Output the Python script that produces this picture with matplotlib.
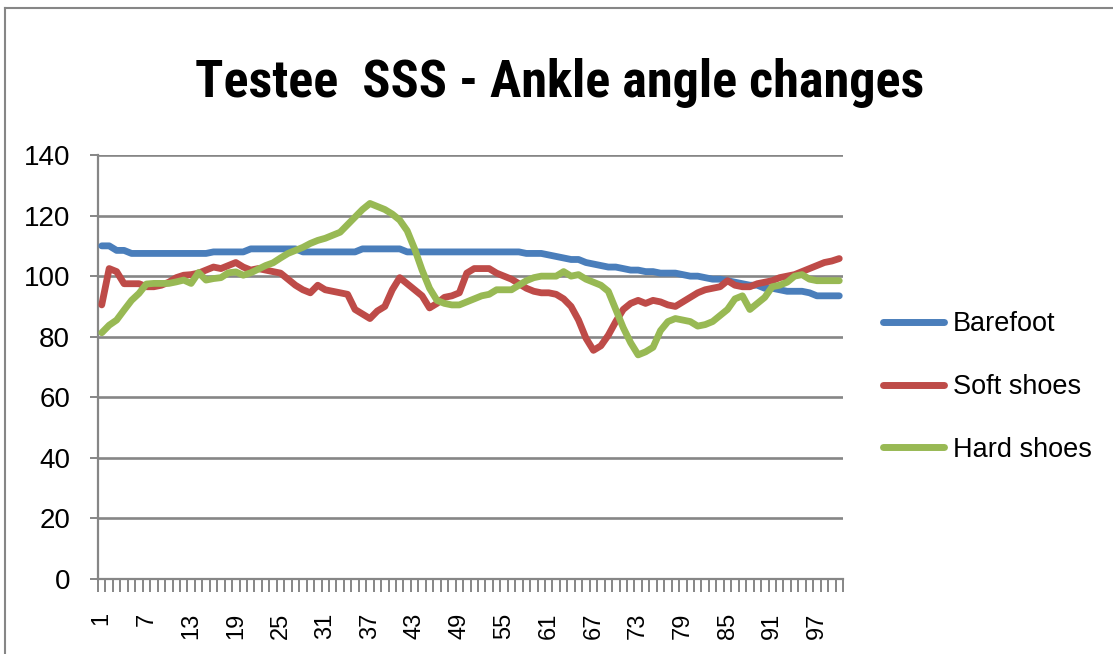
import matplotlib
matplotlib.use("Agg")
import matplotlib.pyplot as plt
from matplotlib.lines import Line2D
from matplotlib import font_manager as fm
import numpy as np

categories = list(range(1, 101))
tick_label_positions = list(range(1, 101, 6))
tick_labels = [str(v) for v in tick_label_positions]
y_ticks = [0, 20, 40, 60, 80, 100, 120, 140]

barefoot = [110, 110, 108.5, 108.5, 107.5, 107.5, 107.5, 107.5, 107.5, 107.5,
            107.5, 107.5, 107.5, 107.5, 107.5, 108, 108, 108, 108, 108,
            109, 109, 109, 109, 109, 109, 109, 108, 108, 108,
            108, 108, 108, 108, 108, 109, 109, 109, 109, 109,
            109, 108, 108, 108, 108, 108, 108, 108, 108, 108,
            108, 108, 108, 108, 108, 108, 108, 107.5, 107.5, 107.5,
            107, 106.5, 106, 105.5, 105.5, 104.5, 104, 103.5, 103, 103,
            102.5, 102, 102, 101.5, 101.5, 101, 101, 101, 100.5, 100,
            100, 99.5, 99, 99, 98.5, 98, 97.5, 97, 97, 96,
            96, 95.5, 95, 95, 95, 94.5, 93.5, 93.5, 93.5, 93.5]

soft_shoes = [90.5, 102.5, 101.5, 97.5, 97.5, 97.5, 96.5, 96.5, 97, 98,
              99.5, 100.3, 100.5, 101, 102, 103, 102.5, 103.5, 104.5, 103,
              102, 102.5, 102, 101.5, 101, 99, 97, 95.5, 94.5, 97,
              95.5, 95, 94.5, 94, 89, 87.5, 86, 88.5, 90, 95.5,
              99.5, 97.5, 95.5, 93.5, 89.5, 91, 93, 93.5, 94.5, 101,
              102.5, 102.5, 102.5, 101, 100, 99, 97.5, 96, 95, 94.5,
              94.5, 94, 92.5, 90, 85.5, 79.5, 75.5, 77, 80.5, 85,
              89, 91, 92, 91, 92, 91.5, 90.5, 90, 91.5, 93,
              94.5, 95.5, 96, 96.5, 98.5, 97, 96.5, 96.5, 97.5, 98,
              98.5, 99.5, 100, 100.5, 101.5, 102.5, 103.5, 104.5, 105, 105.8]

hard_shoes = [81.3, 83.8, 85.5, 88.8, 92, 94.3, 97.4, 97.6, 97.6, 97.6,
              98.1, 98.7, 97.6, 101.2, 98.7, 99.2, 99.5, 101.1, 101.4, 100.3,
              101.1, 102.3, 103.5, 104.4, 106, 107.5, 108.5, 109.5, 110.8, 111.8,
              112.5, 113.5, 114.5, 117, 119.5, 122, 124, 123, 122, 120.5,
              118.5, 115, 109, 102, 96, 92, 91, 90.5, 90.5, 91.5,
              92.5, 93.5, 94, 95.5, 95.5, 95.5, 97, 98.5, 99.5, 100,
              100, 100, 101.5, 100, 100.5, 99, 98, 97, 95, 89,
              83, 78, 74, 75, 76.5, 82, 85, 86, 85.5, 85,
              83.5, 84, 85, 87, 89, 92.5, 93.5, 89, 91, 93,
              96.5, 97, 98, 100, 100.5, 99, 98.5, 98.5, 98.5, 98.5]

series = [("Barefoot", barefoot, "#4A7EBB"),
          ("Soft shoes", soft_shoes, "#BE4B48"),
          ("Hard shoes", hard_shoes, "#98B954")]

# pick a condensed bold face for the title if one is installed
_names = {f.name for f in fm.fontManager.ttflist}
title_family = None
title_stretch = "normal"
for cand in ["Liberation Sans Narrow", "Roboto Condensed", "Open Sans Condensed",
             "Noto Sans Condensed", "DejaVu Sans Condensed", "Noto Sans Display Condensed"]:
    if cand in _names:
        title_family = cand
        break
if title_family is None:
    cond = [f for f in fm.fontManager.ttflist
            if str(f.stretch) in ("condensed", "semi-condensed", "extra-condensed")]
    if cond:
        title_family = cond[0].name
        title_stretch = "condensed"
if title_family is None:
    title_family = "Roboto" if "Roboto" in _names else "Liberation Sans"

W, H = 1113, 654
fig = plt.figure(figsize=(W / 100, H / 100), dpi=100)
fig.patch.set_facecolor("white")

GRAY = "#868686"
FONT = ["Liberation Sans", "DejaVu Sans"]

ax = fig.add_axes([98 / W, 1 - 579 / H, (843 - 98) / W, (579 - 155) / H])
ax.set_facecolor("white")

for name, vals, col in series:
    ax.plot(categories, vals, color=col, lw=4.9, label=name,
            solid_capstyle="round", solid_joinstyle="round", zorder=3)

ax.set_xlim(0.5, 100.5)
ax.set_ylim(0, 140)
ax.set_yticks(y_ticks)
ax.set_yticklabels([str(v) for v in y_ticks], fontfamily=FONT, fontsize=20)
ax.yaxis.grid(True, color=GRAY, lw=1.9, zorder=1)
ax.set_axisbelow(True)

ax.set_xticks(np.arange(0.5, 101, 1.0))
ax.set_xticklabels([])
ax.set_xticks(tick_label_positions, minor=True)
ax.set_xticklabels(tick_labels, minor=True, rotation=90,
                   fontfamily=FONT, fontsize=17)
ax.tick_params(axis="x", which="major", length=9, width=1.4, color=GRAY,
               direction="out")
ax.tick_params(axis="x", which="minor", length=0, pad=24)
ax.tick_params(axis="y", which="major", length=6, width=1.4, color=GRAY,
               pad=14)

for s in ["top", "right"]:
    ax.spines[s].set_visible(False)
for s in ["left", "bottom"]:
    ax.spines[s].set_color(GRAY)
    ax.spines[s].set_linewidth(1.6)

title = fig.text(0.503, 1 - 97 / H, "Testee  SSS - Ankle angle changes",
                 ha="center", va="baseline", fontsize=42, fontweight="bold",
                 fontfamily=[title_family, "DejaVu Sans"], fontstretch=title_stretch)
fig.canvas.draw()
tw = title.get_window_extent(fig.canvas.get_renderer()).width
target_w = 730
if tw > target_w:
    title.set_fontsize(42 * target_w / tw)

leg = fig.legend(loc="center left", bbox_to_anchor=(883 / W, 1 - 387 / H),
                 frameon=False, borderpad=0, borderaxespad=0,
                 handlelength=2.27, handletextpad=0.32, labelspacing=1.36,
                 prop={"family": FONT, "size": 19.5})
for h in leg.get_lines():
    h.set_linewidth(5)
    h.set_solid_capstyle("round")

fig.add_artist(Line2D([5 / W, 5 / W], [0, 1 - 8 / H], transform=fig.transFigure,
                      color=GRAY, lw=1.5))
fig.add_artist(Line2D([5 / W, 1], [1 - 8 / H, 1 - 8 / H], transform=fig.transFigure,
                      color=GRAY, lw=1.5))

fig.savefig("out.png", dpi=100, facecolor="white")
